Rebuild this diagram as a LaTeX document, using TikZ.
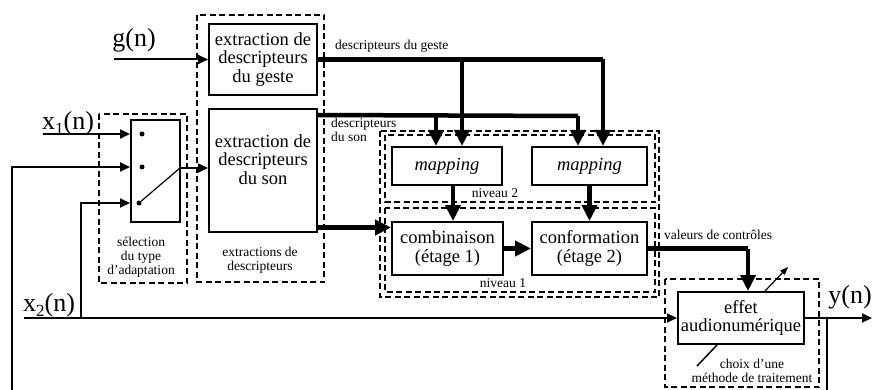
\documentclass[tikz,border=0pt]{standalone}
\usepackage{fontspec}
\setmainfont{Liberation Serif}
\usetikzlibrary{arrows.meta,calc}
\begin{document}
\begin{tikzpicture}[x=1pt,y=-1pt,
  box/.style={draw,line width=2pt,inner sep=0pt,align=center,font=\fontsize{18.5}{18.5}\selectfont},
  dbox/.style={draw,line width=1.2pt,dash pattern=on 6pt off 3.5pt},
  sline/.style={line width=2pt},
  sarrow/.style={line width=2pt,-{Triangle[length=10pt,width=9pt]}},
  barrow/.style={line width=4.5pt,-{Triangle[length=16pt,width=15pt]}},
  bline/.style={line width=4.5pt},
  lab/.style={inner sep=0pt,font=\fontsize{13.5}{14}\selectfont,align=center},
  big/.style={inner sep=0pt,font=\fontsize{26}{26}\selectfont},
  dot/.style={circle,fill,inner sep=0pt,minimum size=5pt}
]
\useasboundingbox (0,0) rectangle (872,390);

% dashed groups
\draw[dbox] (197,15) rectangle (324,282);
\draw[dbox] (99,114) rectangle (187,283);
\draw[dbox] (380,131) rectangle (659,297);
\draw[dbox] (385,135) rectangle (655,202);
\draw[dbox] (385,208) rectangle (655,292);
\draw[dbox] (665,279) rectangle (819,387);

% boxes
\node[box,minimum width=108pt,minimum height=71pt] (geste) at (263,59.5) {extraction de\\descripteurs\\du geste};
\node[box,minimum width=108pt,minimum height=123pt] (son) at (263,170.5) {extraction de\\descripteurs\\du son\\[4pt]};
\node[box,minimum width=49pt,minimum height=102pt] (sw) at (155.5,171) {};
\node[box,minimum width=110pt,minimum height=38pt] (map1) at (447,166) {\itshape mapping};
\node[box,minimum width=115pt,minimum height=38pt] (map2) at (589.5,166) {\itshape mapping};
\node[box,minimum width=111pt,minimum height=53pt] (comb) at (447.5,248.5) {combinaison\\(étage 1)};
\node[box,minimum width=115pt,minimum height=53pt] (conf) at (589.5,248.5) {conformation\\(étage 2)};
\node[box,minimum width=126pt,minimum height=52pt] (effet) at (741,318) {effet\\audionumérique};

% switch dots
\node[dot] (d1) at (142,134) {};
\node[dot] (d2) at (142,167) {};
\node[dot] (d3) at (139,203) {};

% labels
\node[big] (lg) at (134,40) {g(n)};
\node[big] (lx1) at (68,123) {x\raisebox{-5pt}{\fontsize{17}{17}\selectfont 1}(n)};
\node[big] (lx2) at (49,305) {x\raisebox{-5pt}{\fontsize{17}{17}\selectfont 2}(n)};
\node[big] (ly) at (850,297) {y(n)};
\node[lab,anchor=west] (ldg) at (335,46) {descripteurs du geste};
\node[lab,anchor=west,align=left] (lds) at (331,130) {descripteurs\\du son};
\node[lab] (lext) at (260,260.5) {extractions de\\descripteurs};
\node[lab] (lsel) at (141,257.5) {sélection\\du type\\d’adaptation};
\node[lab] (ln2) at (495,193) {niveau 2};
\node[lab] (ln1) at (503,283) {niveau 1};
\node[lab,anchor=west] (lval) at (664,235) {valeurs de contrôles};
\node[lab] (lch) at (752,371) {choix d’une\\méthode de traitement};

% inputs to switch
\coordinate (gin) at (114,59.5);
\draw[sarrow] (gin) -- (gin -| geste.west);
\coordinate (x1in) at (43,134);
\draw[sarrow] (x1in) -- (x1in -| sw.west);
\coordinate (fb) at (12,390);
\draw[sarrow] (fb) |- (d2 -| sw.west);
\coordinate (x2in) at (24,318);
\draw[sarrow] (x2in) -- (x2in -| effet.west);
\coordinate (x2b) at (81,318);
\draw[sarrow] (x2b) |- (d3 -| sw.west);
\coordinate (swout) at (180,168);
\draw[line width=1.2pt] (d3) -- (swout);
\draw[sarrow] (swout) -- (swout -| son.west);

% descripteurs du geste
\coordinate (gJ2) at (603,59.5);
\coordinate (gB1) at (462,59.5);
\draw[bline] (geste.east) -- (gJ2);
\draw[barrow] (gJ2) -- (gJ2 |- map2.north);
\draw[barrow] (gB1) -- (gB1 |- map1.north);

% descripteurs du son
\coordinate (sS) at ([yshift=-7pt]son.north east);
\coordinate (sJ2) at (578,116);
\coordinate (sB1) at (436,116);
\draw[bline] (sS) -- (sJ2);
\draw[barrow] (sJ2) -- (sJ2 |- map2.north);
\draw[barrow] (sB1) -- (sB1 |- map1.north);

% son -> combinaison
\coordinate (sc) at ([yshift=5.5pt]son.south east);
\draw[barrow] (sc) -- (sc -| comb.west);

% mapping -> level 1
\coordinate (m1s) at ([xshift=6pt]map1.south);
\draw[barrow] (m1s) -- (m1s |- comb.north);
\draw[barrow] (map2.south) -- (conf.north);
\draw[barrow] (comb.east) -- (conf.west);

% valeurs de controles
\coordinate (vJ) at (748,248.5);
\draw[bline] (conf.east) -- (vJ);
\draw[barrow] (vJ) -- (vJ |- effet.north);

% output
\coordinate (yout) at (872,318);
\draw[sarrow] (effet.east) -- (yout);
\coordinate (yb) at (827,318);
\coordinate (ybb) at (827,390);
\draw[sline] (yb) -- (ybb);

% method selection marks
\draw[line width=1.2pt,-{Triangle[length=8pt,width=6pt]}] ([xshift=24pt]effet.north) -- ++(23,-24);
\draw[line width=1.5pt] ([xshift=-24pt]effet.south) -- ++(-20,21);
\end{tikzpicture}
\end{document}
